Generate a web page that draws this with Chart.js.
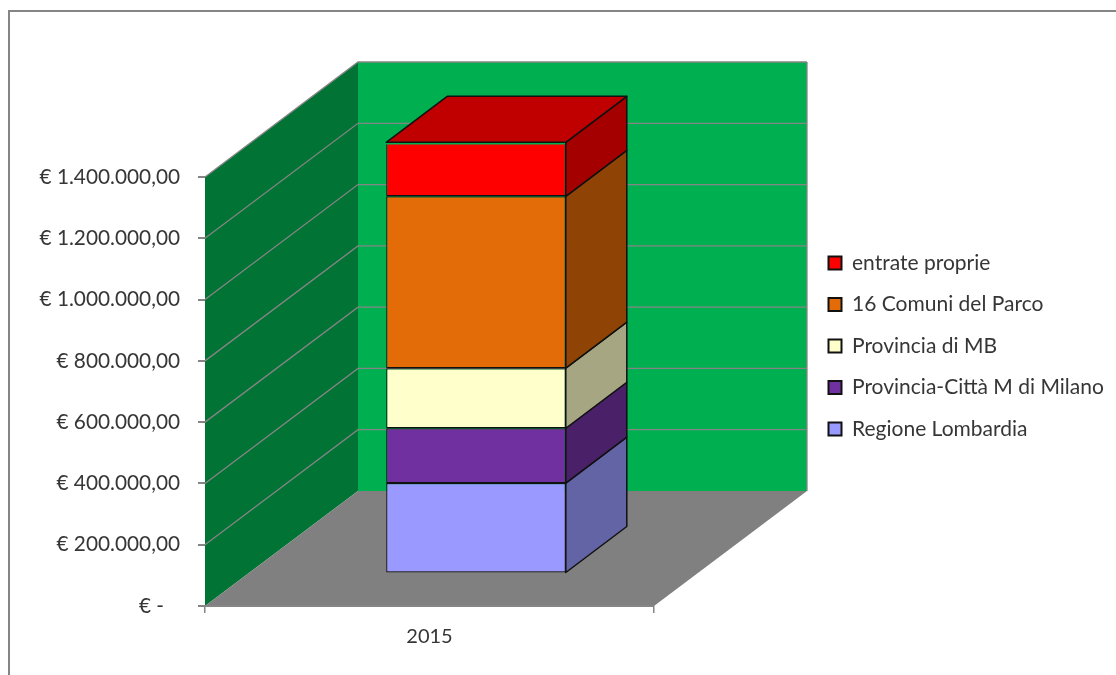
<!DOCTYPE html>
<html>
<head>
<meta charset="utf-8">
<script src="https://cdn.jsdelivr.net/npm/chart.js@4"></script>
<style>html,body{margin:0;padding:0;background:#fff}canvas{display:block}</style>
</head>
<body>
<canvas id="c" width="1116" height="675"></canvas>
<script>
const categories = ['2015'];
const seriesNames = ['Regione Lombardia','Provincia-Città M di Milano','Provincia di MB','16 Comuni del Parco','entrate proprie'];
const regione = [295000];
const milano = [179000];
const mb = [196000];
const comuni = [561000];
const entrate = [176000];
const seriesValues = [regione, milano, mb, comuni, entrate];
const frontColors = ['#9999FF','#7030A0','#FFFFCC','#E36C09','#FF0000'];
const sideColors = ['#6264A6','#4A2069','#A6A683','#8F4406','#A50000'];
const topColor = '#C00000';
const tickLabels = ['€ -   ','€ 200.000,00','€ 400.000,00','€ 600.000,00','€ 800.000,00','€ 1.000.000,00','€ 1.200.000,00','€ 1.400.000,00'];
const tickStep = 200000;
const WALL = {dx:153, dy:-115};
const BAR_OFFSET = {dx:46.5, dy:-32.5};
const BAR_DEPTH = {dx:61, dy:-46};
const FONT = 'Lato, "Open Sans", sans-serif';
const TEXT = '#363636';
const GREY = '#858585';

function poly(ctx, pts, fill, stroke, lw){
  ctx.beginPath();
  pts.forEach((p,i)=> i ? ctx.lineTo(p[0],p[1]) : ctx.moveTo(p[0],p[1]));
  ctx.closePath();
  if(fill){ctx.fillStyle=fill;ctx.fill();}
  if(stroke){ctx.strokeStyle=stroke;ctx.lineWidth=lw;ctx.stroke();}
}

const scene3d = {
  id:'scene3d',
  afterLayout(chart){
    const l = chart.legend;
    const pad = l.options.labels.padding;
    l.left = 828.5 - pad; l.right = 1116; l.width = l.right - l.left;
    l.top = 252.5 - pad; l.bottom = 675; l.height = l.bottom - l.top;
  },
  beforeDraw(chart){
    const ctx = chart.ctx, a = chart.chartArea, y = chart.scales.y;
    ctx.save();
    ctx.strokeStyle = GREY; ctx.lineWidth = 2;
    ctx.beginPath(); ctx.moveTo(9,675); ctx.lineTo(9,11); ctx.lineTo(1116,11); ctx.stroke();
    const L=a.left,R=a.right,T=a.top,B=a.bottom,dx=WALL.dx,dy=WALL.dy;
    poly(ctx,[[L+dx,T+dy],[R+dx,T+dy],[R+dx,B+dy],[L+dx,B+dy]],'#00B050');
    poly(ctx,[[L,T],[L+dx,T+dy],[L+dx,B+dy],[L,B]],'#007335');
    poly(ctx,[[L,B],[L+dx,B+dy],[R+dx,B+dy],[R,B]],'#808080');
    ctx.strokeStyle = GREY; ctx.lineWidth = 1.3;
    y.ticks.forEach(t=>{
      const py = y.getPixelForValue(t.value);
      if(t.value===0) return;
      ctx.beginPath();
      ctx.moveTo(L,py); ctx.lineTo(L+dx,py+dy); ctx.lineTo(R+dx,py+dy);
      ctx.stroke();
    });
    ctx.beginPath(); ctx.moveTo(R+dx,T+dy); ctx.lineTo(R+dx,B+dy); ctx.stroke();
    ctx.restore();
  },
  beforeDatasetDraw(chart){
    chart.ctx.save();
    chart.ctx.translate(BAR_OFFSET.dx, BAR_OFFSET.dy);
  },
  afterDatasetDraw(chart){
    chart.ctx.restore();
  },
  afterDatasetsDraw(chart){
    const ctx = chart.ctx, n = chart.data.datasets.length;
    ctx.save();
    ctx.translate(BAR_OFFSET.dx, BAR_OFFSET.dy);
    ctx.lineJoin = 'round';
    const dx=BAR_DEPTH.dx, dy=BAR_DEPTH.dy, line='#111', lw=1.5;
    for(let i=0;i<n;i++){
      const el = chart.getDatasetMeta(i).data[0];
      const r = el.x + el.width/2, l = el.x - el.width/2;
      poly(ctx,[[r,el.y],[r+dx,el.y+dy],[r+dx,el.base+dy],[r,el.base]],sideColors[i],line,lw);
      if(i===n-1){
        poly(ctx,[[l,el.y],[l+dx,el.y+dy],[r+dx,el.y+dy],[r,el.y]],topColor,line,lw);
      }
    }
    ctx.restore();
  }
};

new Chart(document.getElementById('c'),{
  type:'bar',
  data:{
    labels:categories,
    datasets:seriesNames.map((name,i)=>({
      label:name,
      data:seriesValues[i],
      backgroundColor:frontColors[i],
      borderColor:'#111',
      borderWidth:1.2,
      borderSkipped:false
    }))
  },
  options:{
    responsive:false,
    animation:false,
    events:[],
    layout:{padding:{left:0,top:177,right:244,bottom:0}},
    datasets:{bar:{categoryPercentage:1,barPercentage:0.4}},
    scales:{
      x:{
        stacked:true,
        offset:true,
        afterFit(s){s.height=69;},
        border:{display:true,color:GREY,width:2},
        grid:{drawOnChartArea:false,drawTicks:true,tickLength:7,color:GREY,lineWidth:1.5},
        ticks:{color:TEXT,font:{family:FONT,size:20},padding:12,maxRotation:0}
      },
      y:{
        stacked:true,
        min:0,
        max:1400000,
        afterFit(s){s.width=205;},
        border:{display:false},
        grid:{drawOnChartArea:false,drawTicks:true,tickLength:7,color:GREY,lineWidth:2},
        ticks:{
          stepSize:tickStep,
          color:TEXT,
          font:{family:FONT,size:20.8},
          padding:18,
          callback:(v)=>tickLabels[Math.round(v/tickStep)]
        }
      }
    },
    plugins:{
      title:{display:false},
      tooltip:{enabled:false},
      legend:{
        display:true,
        position:'right',
        align:'start',
        reverse:true,
        labels:{
          color:TEXT,
          font:{family:FONT,size:21},
          boxWidth:13,
          boxHeight:13,
          padding:20.5,
          generateLabels(chart){
            return Chart.defaults.plugins.legend.labels.generateLabels(chart).map(item=>({...item,lineWidth:2,strokeStyle:'#111'}));
          }
        }
      }
    }
  },
  plugins:[scene3d]
});
</script>
</body>
</html>
